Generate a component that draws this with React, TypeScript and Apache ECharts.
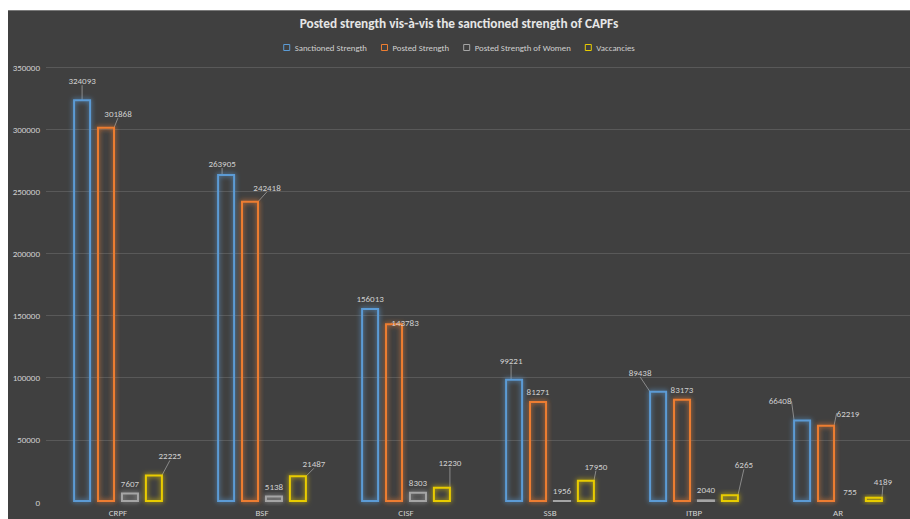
import React, { useEffect, useRef } from "react";
import * as echarts from "echarts";

const categories = ["CRPF", "BSF", "CISF", "SSB", "ITBP", "AR"];
const sanctioned = [324093, 263905, 156013, 99221, 89438, 66408];
const posted = [301868, 242418, 143783, 81271, 83173, 62219];
const women = [7607, 5138, 8303, 1956, 2040, 755];
const vacancies = [22225, 21487, 12230, 17950, 6265, 4189];
const seriesNames = ["Sanctioned Strength", "Posted Strength", "Posted Strength of Women", "Vaccancies"];
const yMin = 0;
const yMax = 350000;
const yInterval = 50000;

// label displacement (px) relative to default "top" position, per series / category
const labelShift: number[][][] = [
  [[0, -9], [-4, -1], [0, 0], [-3, -9], [-18, -9], [-22, -9]],
  [[12, -4], [17, -4], [11, 9], [0, 0], [0, 0], [22, -2]],
  [[0, 0], [0, 0], [0, 0], [0, 0], [0, 0], [0, 0]],
  [[16, -9], [16, -2], [8, -15], [10, -4], [14, -20], [9, -6]],
];
const colors = ["#5B9BD5", "#ED7D31", "#A5A5A5", "#E8CC00"];
const FONT = 'Carlito, "Liberation Sans Narrow", Roboto, sans-serif';

export default function App() {
  const ref = useRef<HTMLDivElement>(null);
  useEffect(() => {
    if (!ref.current) return;
    const chart = echarts.init(ref.current, null, { renderer: "svg" });
    const all = [sanctioned, posted, women, vacancies];
    const series = all.map((vals, si) => ({
      name: seriesNames[si],
      type: "bar",
      barWidth: 18,
      barGap: "33%",
      data: vals.map((v, ci) => {
        const [dx, dy] = labelShift[si][ci];
        return { value: v, labelLine: { show: dx !== 0 || dy !== 0 } };
      }),
      itemStyle: {
        color: "rgba(0,0,0,0)",
        borderColor: colors[si],
        borderWidth: 2,
        shadowColor: colors[si],
        shadowBlur: 5,
      },
      label: {
        show: true,
        position: "top",
        distance: 5,
        color: "#d0d0d0",
        fontSize: 9,
        fontFamily: FONT,
        formatter: (p: any) => String(p.value),
      },
      labelLine: { show: true, lineStyle: { color: "#8a8a8a", width: 1 } },
      labelLayout: (p: any) => {
        const [dx, dy] = labelShift[p.seriesIndex][p.dataIndex];
        return { dx, dy };
      },
    }));
    chart.setOption({
      animation: false,
      backgroundColor: "#404040",
      color: colors,
      title: {
        text: "Posted strength vis-à-vis the sanctioned strength of CAPFs",
        left: "center",
        top: 2,
        padding: [5, 5, 5, 17],
        textStyle: { color: "#e6e6e6", fontSize: 13.3, fontWeight: "bold", fontFamily: FONT },
      },
      legend: {
        top: 33,
        left: "center",
        padding: [0, 0, 0, 14],
        itemWidth: 6,
        itemHeight: 6,
        itemGap: 14,
        icon: "rect",
        itemStyle: { borderWidth: 1, shadowBlur: 0 },
        textStyle: { color: "#d0d0d0", fontSize: 8.8, fontFamily: FONT },
      },
      graphic: [
        { type: "rect", shape: { x: 0, y: 0, width: 902, height: 1 }, style: { fill: "#7a7a7a" }, silent: true },
      ],
      grid: { left: 38, top: 57, width: 867, height: 435 },
      xAxis: {
        type: "category",
        data: categories,
        axisLine: { show: false },
        axisTick: { show: false },
        axisLabel: { color: "#d0d0d0", fontSize: 9, fontFamily: FONT, margin: 6 },
      },
      yAxis: {
        type: "value",
        min: yMin,
        max: yMax,
        interval: yInterval,
        axisLine: { show: false },
        axisTick: { show: false },
        axisLabel: { color: "#d0d0d0", fontSize: 9, fontFamily: FONT, margin: 6, formatter: (v: number) => String(v) },
        splitLine: { show: true, showMinLine: false, lineStyle: { color: "#595959", width: 1 } },
      },
      series,
    });
    return () => chart.dispose();
  }, []);
  return (
    <div
      ref={ref}
      style={{ position: "fixed", left: 8, top: 10, width: 902, height: 509 }}
    />
  );
}
